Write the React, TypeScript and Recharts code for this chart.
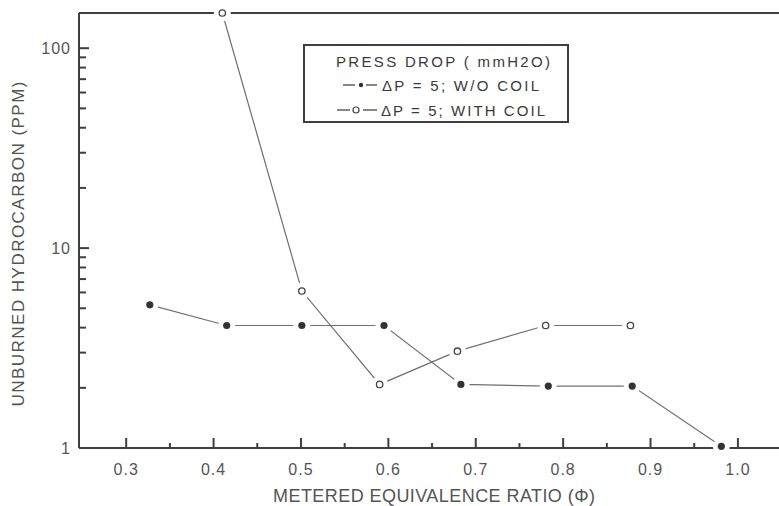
import React from 'react';
import { LineChart, Line, XAxis, YAxis, ReferenceLine } from 'recharts';

// metered equivalence ratio (phi) and unburned HC (ppm)
const noCoilPhi = [0.327, 0.415, 0.501, 0.595, 0.683, 0.783, 0.879, 0.981];
const noCoilHc = [5.2, 4.1, 4.1, 4.1, 2.08, 2.04, 2.04, 1.02];
const coilPhi = [0.41, 0.501, 0.59, 0.679, 0.78, 0.877];
const coilHc = [150, 6.1, 2.08, 3.05, 4.1, 4.1];

const xTicks = [0.3, 0.35, 0.4, 0.45, 0.5, 0.55, 0.6, 0.65, 0.7, 0.75, 0.8, 0.85, 0.9, 0.95, 1.0];
const xLabels = ['0.3', '0.4', '0.5', '0.6', '0.7', '0.8', '0.9', '1.0'];
const yTicks = [1, 2, 3, 4, 5, 6, 7, 8, 9, 10, 20, 30, 40, 50, 60, 70, 80, 90, 100];
const yLabels = ['1', '10', '100'];

const noCoil = noCoilPhi.map((phi, i) => ({ phi, hc: noCoilHc[i] }));
const withCoil = coilPhi.map((phi, i) => ({ phi, hc: coilHc[i] }));

const FONT = '"Liberation Sans", Arial, Helvetica, sans-serif';
const AXIS = '#3f3f3f';
const TEXT = '#555';
const LINE = '#707070';

const XTick = (props: any) => {
  const { x, y, payload } = props;
  const label = payload.value.toFixed(1);
  const major = xLabels.includes(label) && Math.abs(payload.value * 10 - Math.round(payload.value * 10)) < 1e-6;
  return (
    <g>
      <line x1={x} x2={x} y1={y} y2={y - (major ? 10 : 5)} stroke={AXIS} strokeWidth={2} />
      {major && (
        <text x={x} y={y + 27} textAnchor="middle" fontSize={16} fill={TEXT} fontFamily={FONT} letterSpacing={1}>
          {label}
        </text>
      )}
    </g>
  );
};

const YTick = (props: any) => {
  const { x, y, payload } = props;
  const label = String(payload.value);
  const major = yLabels.includes(label);
  return (
    <g>
      <line x1={x} x2={x + (major ? 10 : 7)} y1={y} y2={y} stroke={AXIS} strokeWidth={2} />
      {major && (
        <text x={x - 8} y={y + 6} textAnchor="end" fontSize={16} fill={TEXT} fontFamily={FONT} letterSpacing={1}>
          {label}
        </text>
      )}
    </g>
  );
};

const filledDot = (p: any) => (
  <g key={`f${p.index}`}>
    <circle cx={p.cx} cy={p.cy} r={8.5} fill="#fff" />
    <circle cx={p.cx} cy={p.cy} r={3.6} fill="#333" />
  </g>
);

const openDot = (p: any) => (
  <g key={`o${p.index}`}>
    <circle cx={p.cx} cy={p.cy} r={8.5} fill="#fff" />
    <circle cx={p.cx} cy={p.cy} r={3.2} fill="#fff" stroke="#444" strokeWidth={1.3} />
  </g>
);

export default function App() {
  return (
    <div style={{ position: 'absolute', left: 0, top: 0, width: 779, height: 506, background: '#fff' }}>
      <LineChart width={779} height={506} margin={{ top: 13, right: 0, bottom: 28, left: 0 }}>
        <XAxis
          dataKey="phi"
          type="number"
          domain={[0.246, 1.047]}
          ticks={xTicks}
          interval={0}
          height={30}
          tick={<XTick />}
          tickSize={0}
          tickMargin={0}
          axisLine={{ stroke: AXIS, strokeWidth: 2 }}
          tickLine={false}
          allowDataOverflow
        />
        <YAxis
          dataKey="hc"
          type="number"
          scale="log"
          domain={[1, 150]}
          ticks={yTicks}
          interval={0}
          width={79}
          tick={<YTick />}
          tickSize={0}
          tickMargin={0}
          axisLine={{ stroke: AXIS, strokeWidth: 2 }}
          tickLine={false}
        />
        <Line
          data={noCoil}
          dataKey="hc"
          stroke={LINE}
          strokeWidth={1.2}
          dot={filledDot}
          activeDot={false}
          isAnimationActive={false}
        />
        <Line
          data={withCoil}
          dataKey="hc"
          stroke={LINE}
          strokeWidth={1.2}
          dot={openDot}
          activeDot={false}
          isAnimationActive={false}
        />
        <ReferenceLine y={150} stroke={AXIS} strokeWidth={2} />
      </LineChart>
      <svg width={779} height={506} style={{ position: 'absolute', left: 0, top: 0, pointerEvents: 'none' }}>
        <text
          transform="translate(24 244) rotate(-90)"
          textAnchor="middle"
          fontSize={17}
          fill={TEXT}
          fontFamily={FONT}
          textLength={325}
          lengthAdjust="spacing"
        >
          UNBURNED HYDROCARBON (PPM)
        </text>
        <text
          x={434}
          y={502}
          textAnchor="middle"
          fontSize={18}
          fill={TEXT}
          fontFamily={FONT}
          textLength={322}
          lengthAdjust="spacing"
        >
          METERED EQUIVALENCE RATIO (Φ)
        </text>
        <rect x={304} y={45} width={264} height={77} fill="#fff" stroke={AXIS} strokeWidth={2} />
        <g fontFamily={FONT} fontSize={15} fill="#3a3a3a">
          <text x={336} y={67} textLength={214} lengthAdjust="spacing">PRESS DROP ( mmH2O)</text>
          <line x1={343} x2={355} y1={85} y2={85} stroke="#444" strokeWidth={1.3} />
          <circle cx={361} cy={85} r={2.2} fill="#333" />
          <line x1={366} x2={377} y1={85} y2={85} stroke="#444" strokeWidth={1.3} />
          <text x={382} y={91} textLength={157} lengthAdjust="spacing">ΔP = 5; W/O COIL</text>
          <line x1={337} x2={350} y1={110} y2={110} stroke="#444" strokeWidth={1.3} />
          <circle cx={356} cy={110} r={3} fill="#fff" stroke="#444" strokeWidth={1.2} />
          <line x1={363} x2={377} y1={110} y2={110} stroke="#444" strokeWidth={1.3} />
          <text x={381} y={116} textLength={164} lengthAdjust="spacing">ΔP = 5; WITH COIL</text>
        </g>
      </svg>
    </div>
  );
}
